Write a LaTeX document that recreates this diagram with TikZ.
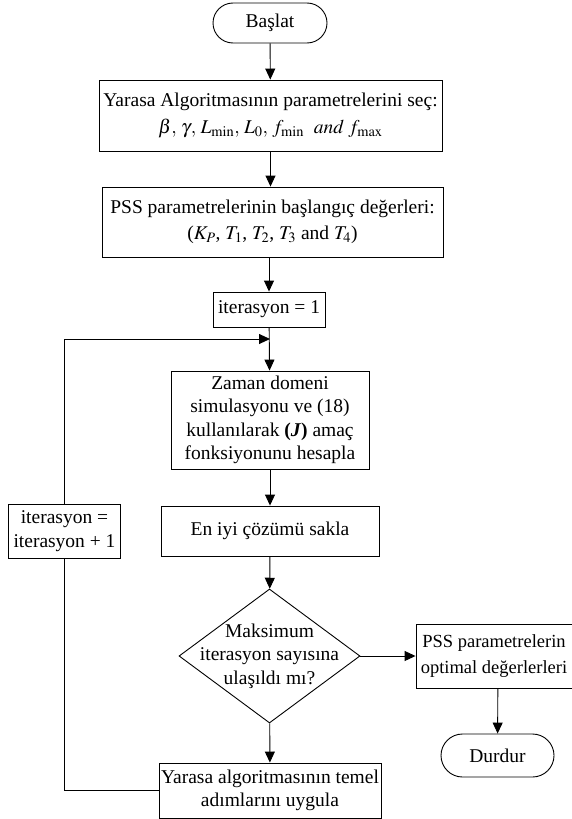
\documentclass[tikz,border=0pt]{standalone}
\usepackage{mathptmx}
\usepackage[no-math]{fontspec}
\setmainfont{Liberation Serif}
\usetikzlibrary{shapes.geometric,shapes.misc,arrows.meta}

\begin{document}
\begin{tikzpicture}[x=1pt,y=-1pt,
    every node/.style={font=\fontsize{19.5}{23.5}\selectfont, align=center, inner sep=0pt},
    blok/.style={draw, line width=0.9pt, rectangle},
    uc/.style={draw, line width=0.9pt, rounded rectangle},
    ok/.style={line width=0.9pt, -{Triangle[length=11pt,width=10pt]}},
    cizgi/.style={line width=0.9pt}]

    \useasboundingbox (0,0) rectangle (572,819);

    % Baslangic
    \node[uc, minimum width=114pt, minimum height=40pt] (basla) at (270,23) {Başlat};

    % Kutular
    \node[blok, minimum width=343pt, minimum height=71pt] (secim) at (270.5,115.5)
        {Yarasa Algoritmasının parametrelerini seç:\\[4pt]
         $\beta,\,\gamma,\,L_{\min},\,L_0,\,f_{\min}\ \ \mathit{and}\ f_{\max}$};
    \node[blok, minimum width=341pt, minimum height=70pt] (ilk) at (272.5,222)
        {PSS parametrelerinin başlangıç değerleri:\\[2pt]
         ($K_P$, $T_1$, $T_2$, $T_3$ and $T_4$)};
    \node[blok, minimum width=112pt, minimum height=35pt] (iter) at (269,309.5) {iterasyon = 1};
    \coordinate (donus) at (270,339);
    \node[blok, minimum width=198pt, minimum height=98pt] (zaman) at (270,420)
        {Zaman domeni\\simulasyonu ve (18)\\kullanılarak \textbf{(\textit{J})} amaç\\fonksiyonunu hesapla};
    \node[blok, minimum width=218pt, minimum height=50pt] (sakla) at (270,531) {En iyi çözümü sakla};

    % Karar
    \node[draw, diamond, line width=0.9pt, minimum width=181pt, minimum height=134pt] (kontrol) at (269.5,656) {};
    \node (kontrolyazi) at (kontrol.center) {Maksimum\\iterasyon sayısına\\ulaşıldı mı?};

    \node[blok, minimum width=222pt, minimum height=55pt] (uygula) at (270,790.5)
        {Yarasa algoritmasının temel\\adımlarını uygula};
    \node[blok, minimum width=112pt, minimum height=54pt] (artir) at (64.5,531)
        {iterasyon =\\iterasyon + 1};

    % Sonuc
    \node[blok, minimum width=164pt, minimum height=64pt] (sonuc) at (498,656) {};
    \node[font=\fontsize{18.5}{23}\selectfont] (sonucyazi) at ([xshift=-4pt]sonuc.center)
        {PSS parametrelerin\\[3pt]optimal değerlerleri};
    \node[uc, minimum width=113pt, minimum height=43pt] (dur) at (497.5,755.5) {Durdur};

    % Oklar
    \draw[ok] (basla) -- (secim);
    \draw[ok] (secim.south) -- (secim.south |- ilk.north);
    \draw[ok] (ilk.south -| iter) -- (iter);
    \draw[ok] (iter) -- (zaman);
    \draw[ok] (zaman) -- (sakla);
    \draw[ok] (sakla) -- (kontrol);
    \draw[ok] (kontrol) -- (sonuc);
    \draw[ok] (sonuc) -- (dur);
    \draw[ok] (kontrol) -- (uygula);

    % Geri donus
    \draw[cizgi] (uygula.west) -| (artir.south);
    \draw[ok] (artir.north) |- (donus);

\end{tikzpicture}
\end{document}
